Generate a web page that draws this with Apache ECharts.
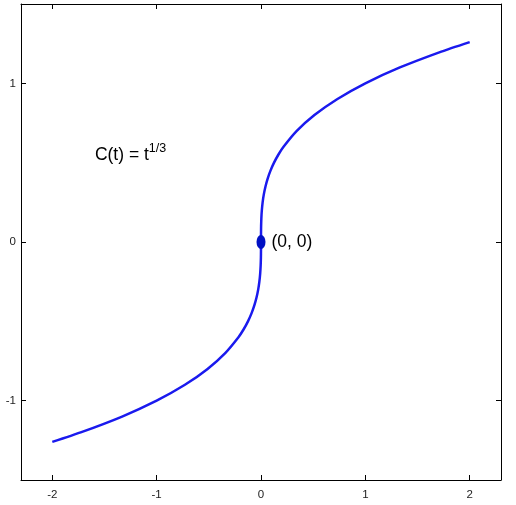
<!DOCTYPE html>
<html>
<head>
<meta charset="utf-8">
<script src="https://cdn.jsdelivr.net/npm/echarts@6/dist/echarts.min.js"></script>
<style>html,body{margin:0;padding:0;background:#fff}#c{width:516px;height:505px}</style>
</head>
<body>
<div id="c"></div>
<script>
// Curve samples: t and C(t)
var tValues = [-2, -1.728, -1.331, -1, -0.729, -0.512, -0.343, -0.216, -0.166, -0.125, -0.091, -0.064, -0.043, -0.027, -0.0156, -0.008, -0.0034, -0.001, -0.0001, 0,
               0.0001, 0.001, 0.0034, 0.008, 0.0156, 0.027, 0.043, 0.064, 0.091, 0.125, 0.166, 0.216, 0.343, 0.512, 0.729, 1, 1.331, 1.728, 2];
var cValues = [-1.26, -1.2, -1.1, -1, -0.9, -0.8, -0.7, -0.6, -0.55, -0.5, -0.45, -0.4, -0.35, -0.3, -0.25, -0.2, -0.15, -0.1, -0.05, 0,
               0.05, 0.1, 0.15, 0.2, 0.25, 0.3, 0.35, 0.4, 0.45, 0.5, 0.55, 0.6, 0.7, 0.8, 0.9, 1, 1.1, 1.2, 1.26];
var xTicks = [-2, -1, 0, 1, 2];
var yTicks = [-1, 0, 1];
var origin = [0, 0];
var formulaPos = [-1.25, 0.56];

var curve = tValues.map(function (t, i) { return [t, cValues[i]]; });

var chart = echarts.init(document.getElementById('c'), null, {renderer: 'canvas'});
var axisBase = {
  type: 'value',
  axisLine: {show: true, onZero: false, lineStyle: {color: '#000', width: 1}},
  splitLine: {show: false}
};
var FONT = 'Liberation Sans, Arial, sans-serif';
chart.setOption({
  animation: false,
  backgroundColor: '#fff',
  grid: {left: 21, top: 4, right: 15, bottom: 25, containLabel: false},
  xAxis: [
    Object.assign({}, axisBase, {
      position: 'bottom', min: -2.3, max: 2.3,
      axisTick: {show: true, inside: true, length: 5, customValues: xTicks, lineStyle: {color: '#000'}},
      axisLabel: {show: true, customValues: xTicks, margin: 9, color: '#222', fontSize: 11.5,
        fontFamily: FONT,
        formatter: function (v) { return String(v); }}
    }),
    Object.assign({}, axisBase, {
      position: 'top', min: -2.3, max: 2.3,
      axisTick: {show: true, inside: true, length: 5, customValues: xTicks, lineStyle: {color: '#000'}},
      axisLabel: {show: false}
    })
  ],
  yAxis: [
    Object.assign({}, axisBase, {
      position: 'left', min: -1.5, max: 1.5,
      axisTick: {show: true, inside: true, length: 5, customValues: yTicks, lineStyle: {color: '#000'}},
      axisLabel: {show: true, customValues: yTicks, margin: 5, color: '#222', fontSize: 11.5,
        fontFamily: FONT,
        formatter: function (v) { return String(v); }}
    }),
    Object.assign({}, axisBase, {
      position: 'right', min: -1.5, max: 1.5,
      axisTick: {show: true, inside: true, length: 5, customValues: yTicks, lineStyle: {color: '#000'}},
      axisLabel: {show: false}
    })
  ],
  series: [
    {
      type: 'line',
      data: curve,
      showSymbol: false,
      smooth: 0.2,
      lineStyle: {color: '#1a1aee', width: 2.5},
      z: 2
    },
    {
      type: 'scatter',
      data: [origin],
      symbol: 'path://M50,0A50,50,0,1,1,50,100A50,50,0,1,1,50,0Z',
      symbolKeepAspect: false,
      symbolSize: [9, 14],
      itemStyle: {color: '#0010c4', opacity: 1},
      label: {show: true, position: 'right', distance: 6, formatter: '(0, 0)',
        color: '#000', fontSize: 17.5, fontFamily: FONT},
      z: 3
    },
    {
      type: 'scatter',
      data: [formulaPos],
      symbolSize: 0,
      itemStyle: {opacity: 1},
      label: {show: true, position: 'inside',
        formatter: '{a|C(t) = t}{b|1/3}',
        rich: {
          a: {fontSize: 17.5, color: '#000', fontFamily: FONT, verticalAlign: 'bottom', lineHeight: 22},
          b: {fontSize: 12.5, color: '#000', fontFamily: FONT, verticalAlign: 'top', lineHeight: 22, padding: [0, 0, 10, 0]}
        }},
      z: 3
    }
  ]
});
</script>
</body>
</html>
